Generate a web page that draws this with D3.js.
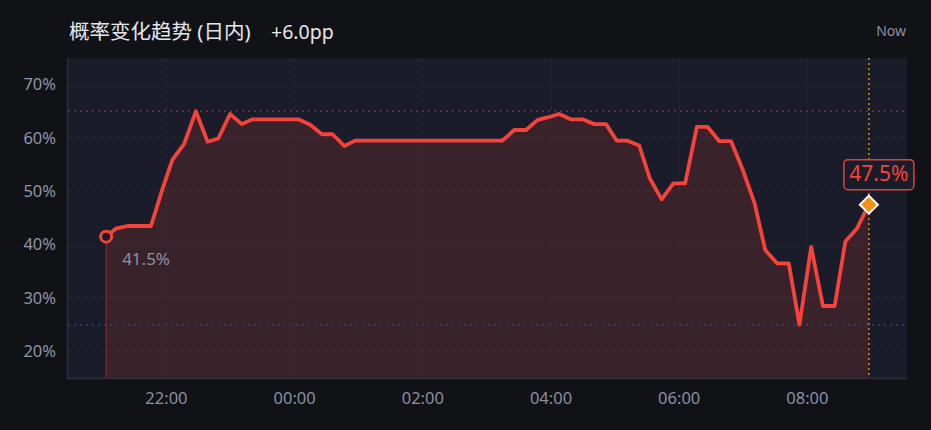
<!DOCTYPE html>
<html>
<head>
<meta charset="utf-8">
<script src="https://cdn.jsdelivr.net/npm/d3@7/dist/d3.min.js"></script>
<style>
  html, body { margin: 0; padding: 0; background: #111216; }
  svg { display: block; }
  text { font-family: "Noto Sans", "Noto Sans CJK SC", sans-serif; }
</style>
</head>
<body>
<svg id="chart" width="931" height="430"></svg>
<script>
// ---- data ----
const times = ["21:04","21:13","21:24","21:46","21:57","22:06","22:17","22:28","22:39","22:49",
  "23:00","23:11","23:21","00:04","00:15","00:26","00:36","00:47","00:57","03:15",
  "03:26","03:37","03:48","03:58","04:08","04:19","04:30","04:41","04:52","05:02",
  "05:12","05:23","05:33","05:44","05:55","06:06","06:17","06:27","06:38","06:49",
  "07:00","07:11","07:21","07:32","07:43","07:53","08:04","08:15","08:26","08:36",
  "08:47","08:58"];
const values = [41.5,43.0,43.5,43.5,50.6,55.9,58.9,65.0,59.3,59.9,
  64.5,62.6,63.5,63.5,62.5,60.7,60.7,58.5,59.5,59.5,
  61.5,61.5,63.4,63.9,64.5,63.5,63.5,62.6,62.6,59.5,
  59.5,58.6,52.4,48.5,51.5,51.5,62.1,62.1,59.4,59.4,
  54.0,47.8,39.0,36.5,36.5,25.0,39.6,28.5,28.5,40.6,
  43.1,47.5];
const yTicks = [20,30,40,50,60,70];
const xTickLabels = ["22:00","00:00","02:00","04:00","06:00","08:00"];
const refHigh = 65, refLow = 25;
const titleText = "概率变化趋势 (日内)";
const changeText = "+6.0pp";
const nowLabel = "Now";

// ---- helpers ----
function toDate(s) {
  const [h, m] = s.split(":").map(Number);
  return new Date(2024, 0, h >= 12 ? 1 : 2, h, m);
}
const data = times.map((t, i) => ({ t: toDate(t), v: values[i] }));

const svg = d3.select("#chart");
const W = 931, H = 430;
const L = 68, R = 907, T = 58, B = 378;

svg.append("rect").attr("width", W).attr("height", H).attr("fill", "#111216");

const t0 = data[0].t, t1 = data[data.length - 1].t;
const span = t1 - t0;
const x = d3.scaleTime()
  .domain([new Date(+t0 - span * 0.05), new Date(+t1 + span * 0.05)])
  .range([L, R]);
const y = d3.scaleLinear().domain([15, 75]).range([B, T]);

// plot background
svg.append("rect").attr("x", L).attr("y", T).attr("width", R - L).attr("height", B - T)
  .attr("fill", "#1a1d29");

// grid
const xTickDates = xTickLabels.map(toDate);
svg.append("g").selectAll("line").data(yTicks).join("line")
  .attr("x1", L).attr("x2", R)
  .attr("y1", d => y(d) + 0.5).attr("y2", d => y(d) + 0.5)
  .attr("stroke", "#252937").attr("stroke-width", 1).attr("stroke-dasharray", "4,4");
svg.append("g").selectAll("line").data(xTickDates).join("line")
  .attr("x1", d => Math.round(x(d)) + 0.5).attr("x2", d => Math.round(x(d)) + 0.5)
  .attr("y1", T).attr("y2", B)
  .attr("stroke", "#252937").attr("stroke-width", 1).attr("stroke-dasharray", "4,4");

// area
const area = d3.area().x(d => x(d.t)).y0(B).y1(d => y(d.v));
svg.append("path").datum(data).attr("d", area)
  .attr("fill", "#f4433a").attr("fill-opacity", 0.15);

// start vertical line
svg.append("line")
  .attr("x1", x(t0)).attr("x2", x(t0)).attr("y1", y(data[0].v)).attr("y2", B)
  .attr("stroke", "#f4433a").attr("stroke-opacity", 0.3).attr("stroke-width", 1.5);

// reference lines
svg.append("line").attr("x1", L).attr("x2", R)
  .attr("y1", y(refHigh)).attr("y2", y(refHigh))
  .attr("stroke", "#6a3340").attr("stroke-width", 1.5).attr("stroke-dasharray", "2,4");
svg.append("line").attr("x1", L).attr("x2", R)
  .attr("y1", y(refLow)).attr("y2", y(refLow))
  .attr("stroke", "#34406e").attr("stroke-width", 1.5).attr("stroke-dasharray", "2,4");

// now line
svg.append("line")
  .attr("x1", x(t1)).attr("x2", x(t1)).attr("y1", T).attr("y2", B)
  .attr("stroke", "#d98a1c").attr("stroke-width", 1.5).attr("stroke-dasharray", "2,3");

// axis lines (left, bottom)
svg.append("line").attr("x1", L - 0.5).attr("x2", L - 0.5).attr("y1", T).attr("y2", B + 1)
  .attr("stroke", "#2c2f3e").attr("stroke-width", 1.5);
svg.append("line").attr("x1", L - 1).attr("x2", R).attr("y1", B + 0.5).attr("y2", B + 0.5)
  .attr("stroke", "#2c2f3e").attr("stroke-width", 1.5);

// line
const line = d3.line().x(d => x(d.t)).y(d => y(d.v));
svg.append("path").datum(data).attr("d", line)
  .attr("fill", "none").attr("stroke", "#f4433a").attr("stroke-width", 3.8)
  .attr("stroke-linejoin", "round").attr("stroke-linecap", "round");

// start marker
svg.append("circle").attr("cx", x(t0)).attr("cy", y(data[0].v)).attr("r", 5.5)
  .attr("fill", "#1a1d29").attr("stroke", "#f4433a").attr("stroke-width", 3);
svg.append("text").attr("x", x(t0) + 16).attr("y", y(data[0].v) + 28)
  .attr("fill", "#8a8fa2").attr("font-size", 17)
  .text(data[0].v.toFixed(1) + "%");

// end marker
const ex = x(t1), ey = y(data[data.length - 1].v);
svg.append("path")
  .attr("d", `M${ex},${ey - 9}L${ex + 9},${ey}L${ex},${ey + 9}L${ex - 9},${ey}Z`)
  .attr("fill", "#f39212").attr("stroke", "#ffffff").attr("stroke-width", 2);
const lbl = svg.append("g");
lbl.append("rect").attr("x", ex - 25).attr("y", ey - 45).attr("width", 70).attr("height", 30)
  .attr("rx", 4).attr("fill", "#1a1d29").attr("stroke", "#e0403a").attr("stroke-width", 1.5);
lbl.append("text").attr("x", ex + 10).attr("y", ey - 23.5).attr("text-anchor", "middle")
  .attr("fill", "#f4433a").attr("font-size", 21)
  .text(data[data.length - 1].v.toFixed(1) + "%");

// axes
const yAxis = d3.axisLeft(y).tickValues(yTicks).tickSize(0).tickPadding(12)
  .tickFormat(d => d + "%");
const gy = svg.append("g").attr("transform", `translate(${L},0)`).call(yAxis);
gy.select(".domain").remove();
gy.selectAll("text").attr("fill", "#9095a8").attr("font-size", 16.5)
  .attr("font-family", "'Noto Sans', sans-serif");

const xAxis = d3.axisBottom(x).tickValues(xTickDates).tickSize(0).tickPadding(14)
  .tickFormat((d, i) => xTickLabels[i]);
const gx = svg.append("g").attr("transform", `translate(0,${B})`).call(xAxis);
gx.select(".domain").remove();
gx.selectAll("text").attr("fill", "#8a8fa2").attr("font-size", 16.5)
  .attr("font-family", "'Noto Sans', sans-serif");

// title
const title = svg.append("text").attr("x", 69).attr("y", 39)
  .attr("fill", "#e6e7ec").attr("font-size", 20.5);
title.append("tspan").text(titleText);
svg.append("text").attr("x", 271).attr("y", 39)
  .attr("fill", "#e6e7ec").attr("font-size", 19.5).text(changeText);

svg.append("text").attr("x", 906).attr("y", 36).attr("text-anchor", "end")
  .attr("fill", "#8a8fa2").attr("font-size", 14).text(nowLabel);
</script>
</body>
</html>
